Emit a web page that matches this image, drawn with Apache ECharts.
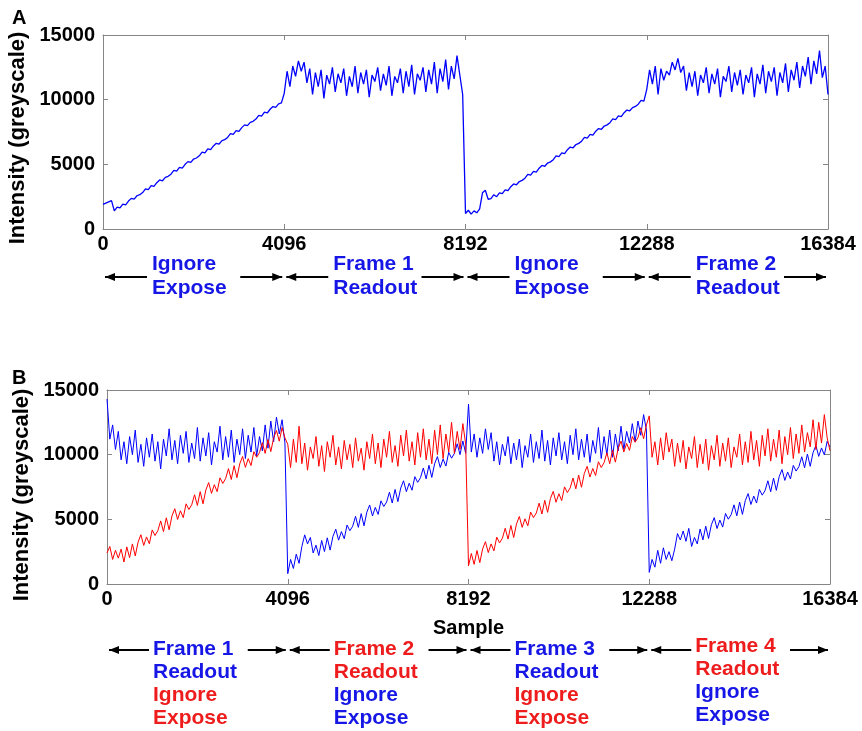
<!DOCTYPE html>
<html>
<head>
<meta charset="utf-8">
<script src="https://cdn.jsdelivr.net/npm/echarts@6/dist/echarts.min.js"></script>
<style>
html,body{margin:0;padding:0;background:#fff;}
#chart{width:862px;height:731px;}
</style>
</head>
<body>
<div id="chart"></div>
<script>
// ---------- DATA ----------
const SAMPLE_STEP = 64; // samples between successive readings
const xTicks = [0, 4096, 8192, 12288, 16384];
const yTicks = [0, 5000, 10000, 15000];

// Panel A: single pixel intensity (blue)
const panelA_intensity = [
 1900,2000,2100,2200,
 1400,1690,1630,1930,1870,2160,2370,2310,2570,2650,
 2820,3110,3050,3350,3290,3580,3790,3730,3990,4070,
 4240,4530,4470,4770,4710,5000,5210,5150,5410,5490,
 5660,5950,5890,6190,6130,6420,6630,6570,6830,6910,
 7080,7370,7310,7610,7550,7840,8050,7990,8250,8330,
 8500,8790,8730,9030,8970,9260,9470,9410,9670,9750,
 10500,12200,11000,12600,11800,13000,12200,12900,11300,12400,
 10400,12100,11000,12300,10100,11900,11200,12500,10600,12000,
 11300,12400,10300,11800,11000,12600,10500,12100,11200,12300,
 10200,11900,11400,12500,10700,12000,11100,12600,10300,11800,
 11300,12400,10500,12200,11000,12700,10400,12000,11500,12500,
 10600,12300,11200,12900,10500,12400,11400,13100,10800,12600,
 11600,13400,11900,10400,
 1200,1450,1150,1400,1250,1550,2800,3000,2300,2350,
 2650,2500,2790,2740,3030,2970,3270,3480,3420,3670,
 3760,3930,4220,4170,4460,4400,4700,4910,4850,5100,
 5190,5360,5650,5600,5890,5830,6130,6340,6280,6530,
 6620,6790,7080,7030,7320,7260,7560,7770,7710,7960,
 8050,8220,8510,8460,8750,8690,8990,9200,9140,9390,
 9480,9650,9940,9890,
 10800,12300,11200,12600,10400,12400,11500,12200,11900,12900,
 12300,13200,12100,12600,10700,12100,11000,12200,10300,11900,
 11300,12500,10500,12000,11200,12400,10200,11800,11400,12600,
 10600,12100,11100,12300,10400,11900,11300,12500,10200,12000,
 11200,12700,10500,12200,11400,12500,10300,12100,11300,12800,
 10600,12300,11500,12900,10900,12600,11800,13300,11200,13000,
 12000,13800,11700,12600,10400
];

// Panel B: blue pixel
const panelB_blue = [
 14300,11200,12300,10400,11800,9600,11000,9300,11400,10000,
 11900,9400,10800,9100,11300,9800,11600,9500,11000,8900,
 11200,9900,12000,9600,11100,9300,11500,10100,11800,9400,
 10900,9700,12100,9500,11300,9900,11700,9200,11000,10200,
 12200,9600,11400,9800,11900,9400,11200,10000,12000,9700,
 11500,10200,12100,9900,11400,10300,12300,10500,12600,11000,
 12900,11600,12700,10900,
 800,1900,1200,2300,1600,2900,3800,3100,3600,2400,3000,2200,
 3360,2510,3570,2620,3680,4240,3390,4050,3500,4560,4120,4470,
 5230,4380,5440,4500,5550,6110,5260,5920,5380,6430,5990,6340,
 7100,6260,7310,6370,7420,7980,7140,7790,7250,8300,7860,8220,
 8970,8130,9180,8240,9300,9850,9010,9660,9120,10180,9730,10090,
 10840,10000,11060,10110,
 13900,10200,11600,9800,11300,10100,12000,10400,11700,9500,
 11000,9200,10800,9900,11400,9300,10900,9600,11200,9000,
 10700,9800,11600,9400,11000,9700,11900,9500,11100,9200,
 11300,9900,11700,9600,11000,9300,11500,10000,12000,9600,
 11200,9800,11600,9400,11100,10100,12100,9700,11400,10000,
 11900,9800,11600,10300,12200,10400,11800,10900,12400,11000,
 12600,11500,13100,11900,
 900,1900,1300,2600,1600,2800,1900,2500,1800,2700,3900,3400,4100,3300,4300,2900,3600,3100,
 4250,3410,4470,3520,4580,5130,4290,4940,4400,5450,5010,5360,
 6120,5270,6330,5380,6440,6990,6150,6800,6260,7310,6870,7220,
 7980,7130,8190,7240,8300,8850,8010,8660,8120,9170,8730,9080,
 9840,8990,10050,9100,10160,10710,9870,10520,9980,11030,10590
];

// Panel B: red pixel
const panelB_red = [
 2400,2900,1900,2600,2000,2700,1700,
 2870,2040,3100,2170,3240,3810,2980,3640,3110,4180,
 3750,4120,4880,4050,5120,4190,5260,5820,4990,5660,
 5130,6200,5760,6130,6900,6070,7140,6200,7270,7840,
 7010,7680,7140,8210,7780,8150,8920,8080,9150,8220,
 9290,9860,9020,9690,9160,10230,9800,10160,10930,10100,
 11170,10240,11300,11870,11040,
 12100,11300,
 10800,9000,11200,9400,12200,9300,10900,8800,10600,9700,
 11400,9100,10700,8700,11000,9800,11500,9200,10600,8900,
 11100,9600,10800,9000,11300,9500,10500,8800,11000,9700,
 11600,9300,10900,9000,11200,9800,11800,9400,10700,9100,
 11500,9900,11900,9500,11000,9200,11700,9800,12000,9600,
 11200,9300,11900,10000,12300,9700,11600,10200,12500,10100,
 11800,10400,12400,10800,
 1400,2360,1520,2590,1650,2710,3270,2430,3100,2560,
 3620,3180,3540,4310,3470,4530,3590,4650,5220,4380,
 5040,4500,5560,5130,5490,6250,5410,6470,5540,6600,
 7160,6320,6980,6450,7510,7070,7430,8190,7360,8420,
 7480,8540,9100,8270,8930,8390,9450,9010,9380,10140,
 9300,10360,9420,10490,11050,10210,10870,10330,11400,10960,
 11320,12080,11240,12300,
 13000,9800,11000,9200,11300,9600,11700,10200,11200,9100,
 10900,9400,11100,8900,10600,9700,11400,9000,10800,9300,
 11200,8800,10700,9600,11500,9100,10900,9500,11300,9000,
 10600,9800,11600,9200,11000,9400,11800,9600,11100,9100,
 11500,9900,12000,9500,11200,9800,11900,9300,11400,10000,
 12100,9700,11600,10100,12300,10200,11700,10600,12700,10400,
 12500,10900,13100,11300,10300
];

// Annotation texts
const annotA_lines = [['Ignore','Expose'], ['Frame 1','Readout'], ['Ignore','Expose'], ['Frame 2','Readout']];
const annotB_lines = [
 ['Frame 1','Readout','Ignore','Expose'],
 ['Frame 2','Readout','Ignore','Expose'],
 ['Frame 3','Readout','Ignore','Expose'],
 ['Frame 4','Readout','Ignore','Expose']
];
const annotB_colors = [
 ['blue','blue','red','red'],
 ['red','red','blue','blue'],
 ['blue','blue','red','red'],
 ['red','red','blue','blue']
];

// ---------- CHART ----------
const BLUE = '#0000ff', RED = '#ff0000';
const TXT_BLUE = '#1616e6', TXT_RED = '#ee1c1c';
const FF = '"Liberation Sans", Arial, Helvetica, sans-serif';
const AX = '#858585';

function toPairs(arr){ return arr.map((v,i)=>[i*SAMPLE_STEP, v]); }

function xAx(grid, pos, withLabels, name){
  return {
    gridIndex: grid, type:'value', position: pos,
    min: xTicks[0], max: xTicks[xTicks.length-1], interval: 4096,
    axisLine:{show:true, onZero:false, lineStyle:{color:AX, width:1}},
    axisTick:{show:true, inside:true, length:5, lineStyle:{color:AX}},
    axisLabel:{show:withLabels, color:'#000', fontWeight:'bold', fontSize:20, fontFamily:FF, margin:5,
      showMinLabel:true, showMaxLabel:true, formatter: v => String(v)},
    splitLine:{show:false},
    name: name || '', nameLocation:'middle', nameGap: 34,
    nameTextStyle:{color:'#000', fontWeight:'bold', fontSize:20, fontFamily:FF}
  };
}
function yAx(grid, pos, withLabels, gap, shift){
  return {
    gridIndex: grid, type:'value', position: pos,
    min: yTicks[0], max: yTicks[yTicks.length-1], interval: 5000,
    axisLine:{show:true, onZero:false, lineStyle:{color:AX, width:1}},
    axisTick:{show:true, inside:true, length:5, lineStyle:{color:AX}},
    axisLabel:{show:withLabels, color:'#000', fontWeight:'bold', fontSize:20, fontFamily:FF, margin:8,
      showMinLabel:true, showMaxLabel:true, formatter: v => String(v)},
    splitLine:{show:false},
    name: withLabels ? 'Intensity (greyscale)' : '', nameLocation:'middle', nameGap: gap || 0, nameRotate: 90,
    nameTextStyle:{color:'#000', fontWeight:'bold', fontSize:22, fontFamily:FF, padding:[0, shift || 0, 0, 0]}
  };
}

const chart = echarts.init(document.getElementById('chart'), null, {renderer:'canvas'});
const lineSeries = (name, data, color, xi, yi, z, w) => ({
  name, type:'line', data: toPairs(data), xAxisIndex: xi, yAxisIndex: yi,
  showSymbol:false, symbol:'none', sampling: null, smooth:false, z: z,
  lineStyle:{color, width:w}, itemStyle:{color}
});

chart.setOption({
  animation:false,
  backgroundColor:'#fff',
  grid:[
    {left:103, top:35, right:34, bottom:502, containLabel:false, outerBoundsMode:'none'},
    {left:107, top:390, right:32, bottom:147, containLabel:false, outerBoundsMode:'none'}
  ],
  xAxis:[ xAx(0,'bottom',true), xAx(0,'top',false), xAx(1,'bottom',true,'Sample'), xAx(1,'top',false) ],
  yAxis:[ yAx(0,'left',true,69,12), yAx(0,'right',false), yAx(1,'left',true,73,16), yAx(1,'right',false) ],
  series:[
    lineSeries('A', panelA_intensity, BLUE, 0, 0, 2, 1.3),
    lineSeries('B blue', panelB_blue, BLUE, 2, 2, 2, 1),
    lineSeries('B red', panelB_red, RED, 2, 2, 3, 1)
  ]
});

// ---------- ANNOTATIONS ----------
function arrow(x1, x2, y, tipAtEnd){
  const tip = tipAtEnd ? x2 : x1;
  const dir = tipAtEnd ? -1 : 1;
  return [
    {type:'line', silent:true, shape:{x1: x1, y1: y, x2: x2, y2: y}, style:{stroke:'#000', lineWidth:2}},
    {type:'polygon', silent:true, shape:{points:[[tip,y],[tip+dir*10,y-4],[tip+dir*10,y+4]]}, style:{fill:'#000'}}
  ];
}
function buildGraphics(){
  const g = [];
  g.push({type:'text', silent:true, x:12, y:8, style:{text:'A', font:'bold 20px '+FF, fill:'#000'}});
  g.push({type:'text', silent:true, x:12, y:368, style:{text:'B', font:'bold 20px '+FF, fill:'#000'}});
  // Panel A
  const pa = xTicks.map(v => chart.convertToPixel({xAxisIndex:0}, v));
  const rowA = 277;
  for (let s = 0; s < 4; s++){
    const a = pa[s], b = pa[s+1];
    g.push(...arrow(a+2, a+44, rowA, false));
    g.push(...arrow(b-44, b-2, rowA, true));
    annotA_lines[s].forEach((t, k) => {
      g.push({type:'text', silent:true, x: a+49, y: 264 + k*24,
        style:{text:t, font:'bold 21px '+FF, fill:TXT_BLUE, verticalAlign:'middle', align:'left'}});
    });
  }
  // Panel B
  const pb = xTicks.map(v => chart.convertToPixel({xAxisIndex:2}, v));
  const rowB = 650;
  const rowsY = [649, 672, 695, 718];
  for (let s = 0; s < 4; s++){
    const a = pb[s], b = pb[s+1];
    g.push(...arrow(a+2, a+42, rowB, false));
    g.push(...arrow(b-40, b-2, rowB, true));
    annotB_lines[s].forEach((t, k) => {
      const c = annotB_colors[s][k] === 'blue' ? TXT_BLUE : TXT_RED;
      g.push({type:'text', silent:true, x: a+46, y: rowsY[k] - (s===3 ? 3 : 0),
        style:{text:t, font:'bold 21px '+FF, fill:c, verticalAlign:'middle', align:'left'}});
    });
  }
  return g;
}
chart.setOption({graphic: buildGraphics()});
</script>
</body>
</html>
